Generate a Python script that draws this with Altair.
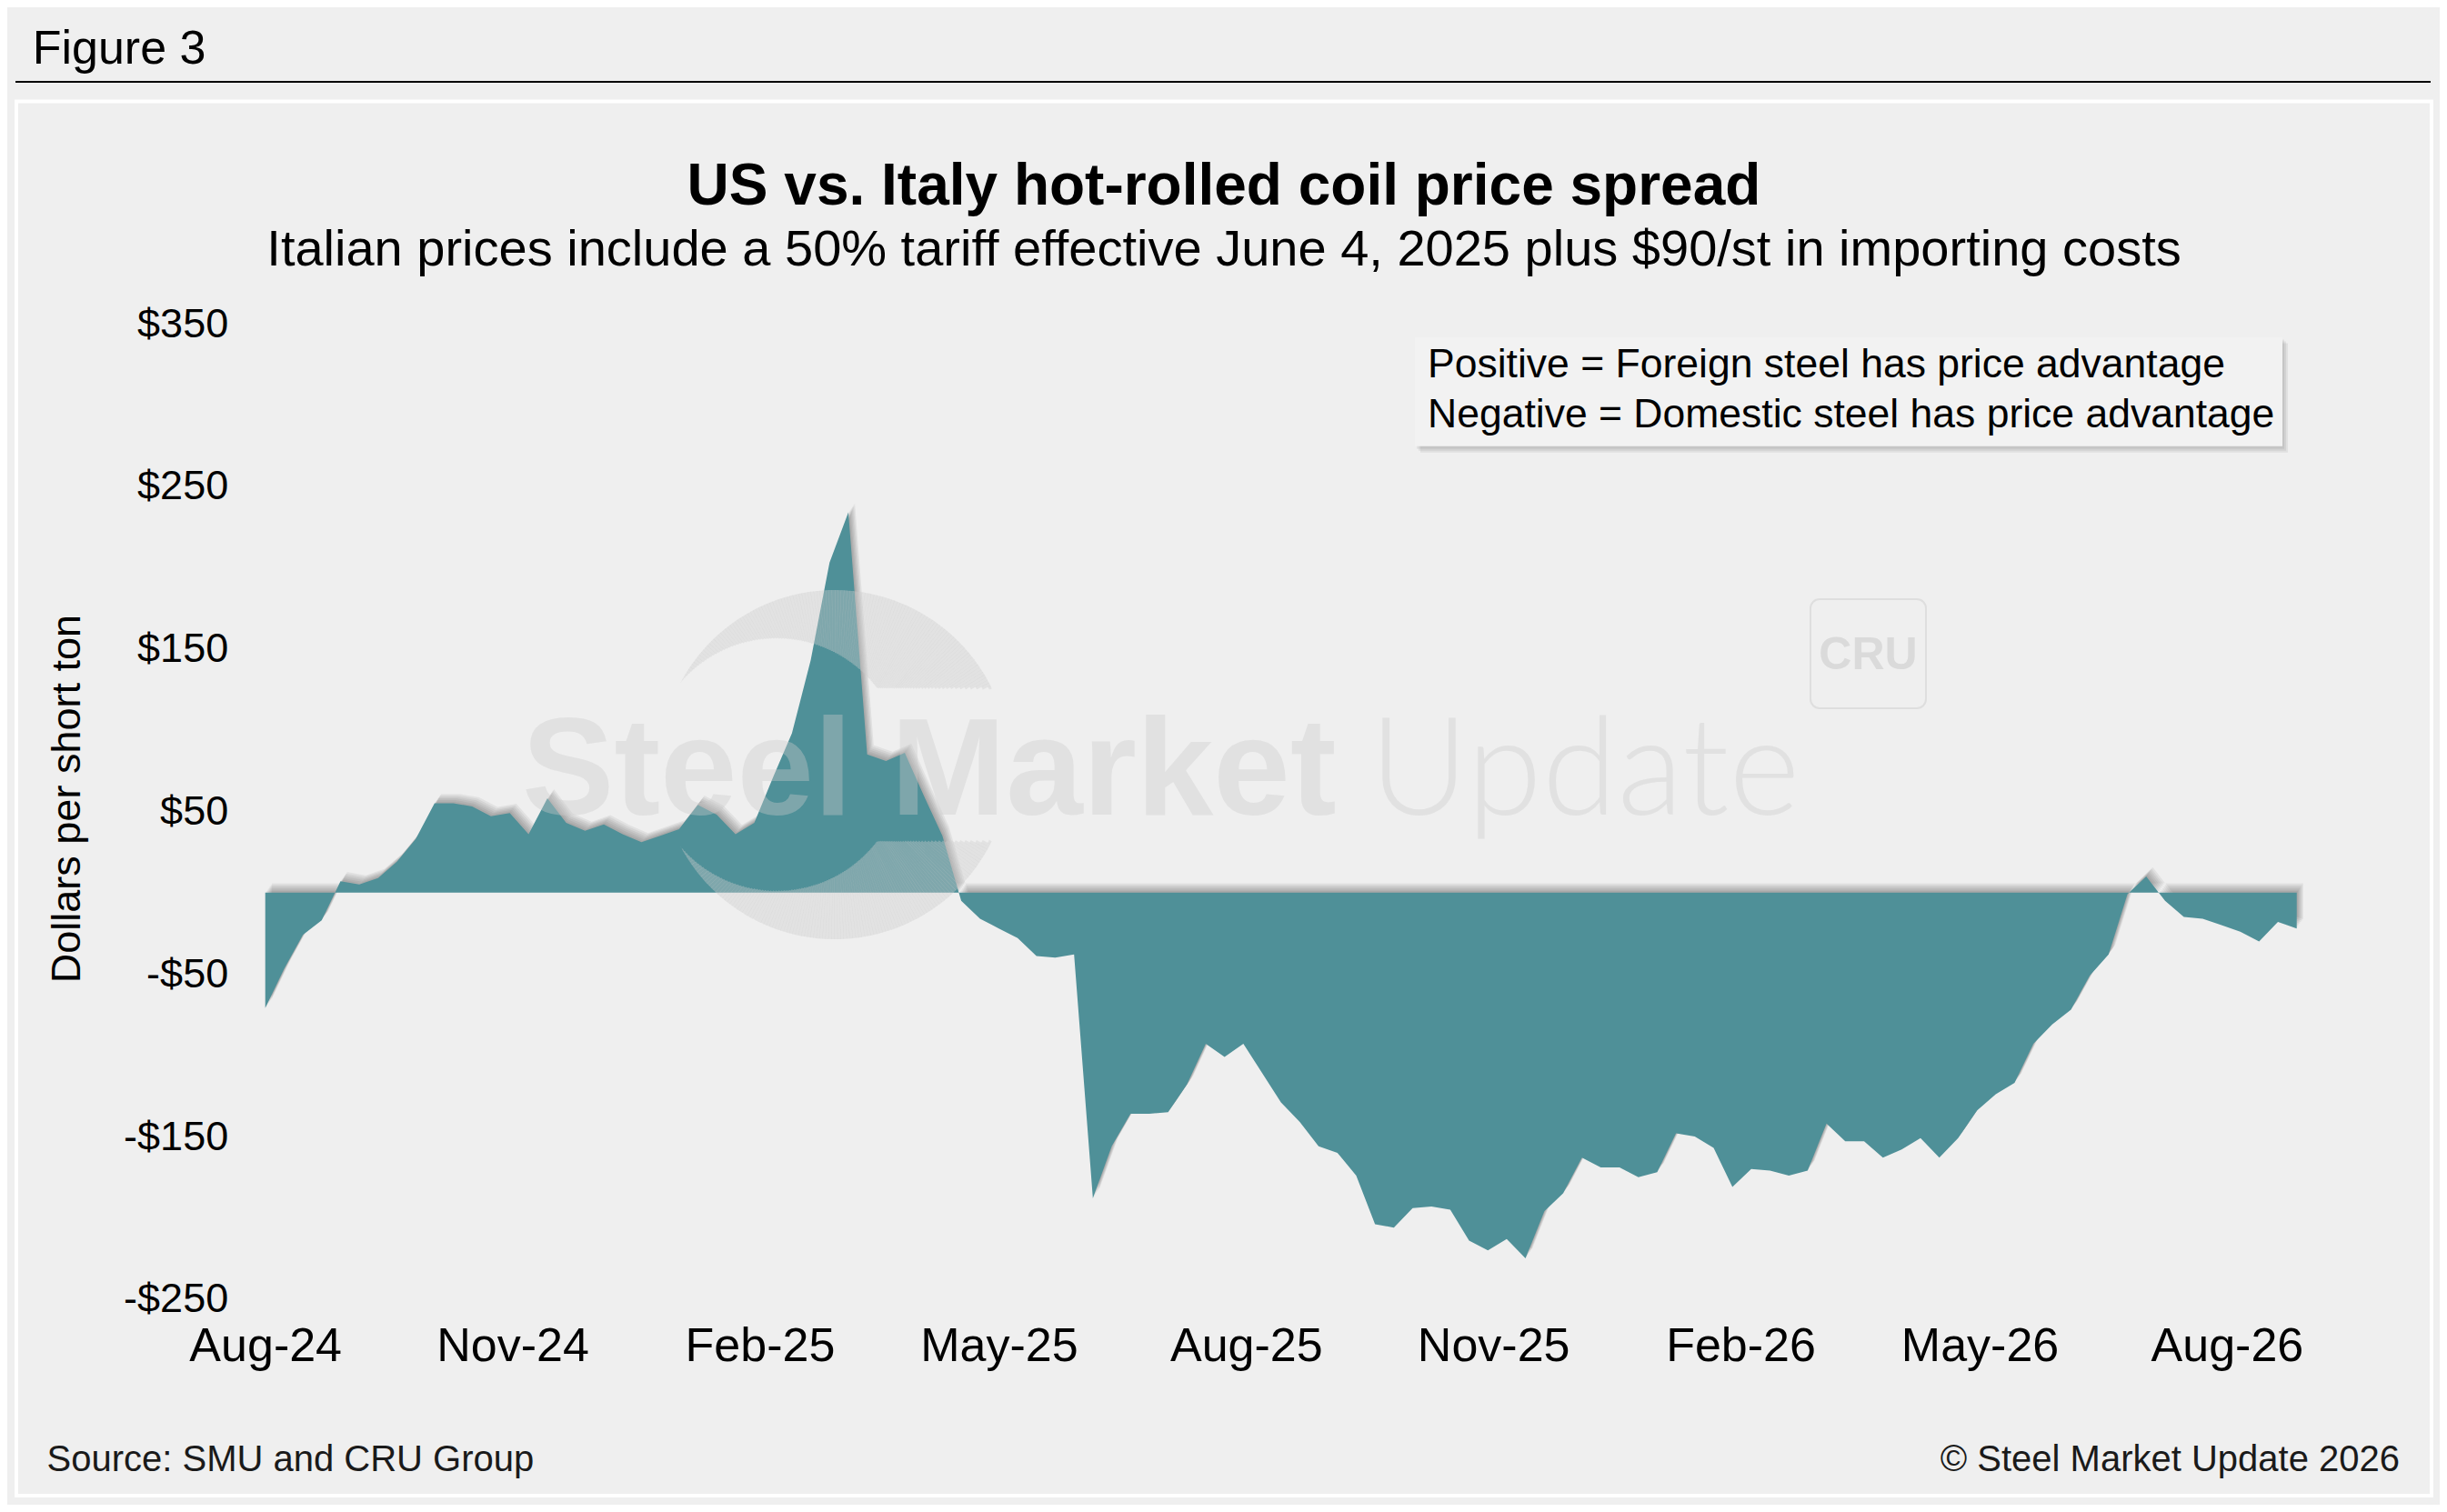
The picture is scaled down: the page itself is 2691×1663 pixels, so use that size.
import math
import altair as alt
import pandas as pd

# ---------------- data ----------------
start_date = "2024-08-01"
spread = [-71, -47, -26, -17, 7, 5, 9, 19, 33, 55,
          55, 53, 47, 49, 36, 58, 43, 38, 42, 36,
          31, 35, 39, 54, 48, 36, 43, 71, 98, 143,
          203, 234, 85, 81, 86, 60, 35, -5, -16, -22,
          -28, -39, -40, -38, -188, -156, -136, -136, -135, -118,
          -93, -101, -93, -111, -129, -141, -156, -160, -174, -204,
          -206, -194, -193, -195, -214, -220, -213, -225, -196, -185,
          -163, -169, -169, -175, -172, -148, -150, -157, -181, -170,
          -171, -174, -171, -142, -153, -153, -163, -158, -151, -163,
          -151, -134, -124, -117, -93, -81, -72, -51, -38, -1,
          10, -5, -15, -16, -20, -24, -30, -18, -22]
dates = pd.date_range(start_date, periods=len(spread), freq="7D").strftime("%Y-%m-%d")

x_tick_months = [(2024, 8), (2024, 11), (2025, 2), (2025, 5), (2025, 8),
                 (2025, 11), (2026, 2), (2026, 5), (2026, 8)]
y_ticks = [-250, -150, -50, 50, 150, 250, 350]

title_text = "US vs. Italy hot-rolled coil price spread"
subtitle_text = "Italian prices include a 50% tariff effective June 4, 2025 plus $90/st in importing costs"
legend_lines = ["Positive = Foreign steel has price advantage",
                "Negative = Domestic steel has price advantage"]
y_title = "Dollars per short ton"
source_text = "Source: SMU and CRU Group"
copyright_text = "\u00a9 Steel Market Update 2026"
figure_label = "Figure 3"

df = pd.DataFrame({"date": dates, "spread": spread})

# ---------------- styling / layout ----------------
BG = "#efefef"
TEAL = "#4f9098"
FONT = "Liberation Sans"
WM_COLOR = "#cccccc"
WM_OPACITY = 0.38

TOTAL_W, TOTAL_H = 2675, 1647
PL, PT = 283.7, 348.0
W, H = 2334.5, 1072.8
PR = TOTAL_W - PL - W
PB = TOTAL_H - PT - H

one = pd.DataFrame({"k": [0]})


def txt(text, x, y, size, weight="normal", align="left", baseline="alphabetic",
        color="#000000", font=FONT, angle=0, opacity=1.0):
    return alt.Chart(one).mark_text(
        text=text, align=align, baseline=baseline, fontSize=size,
        fontWeight=weight, font=font, color=color, angle=angle, opacity=opacity
    ).encode(x=alt.value(x), y=alt.value(y))


def rect(x1, y1, x2, y2, **kw):
    return alt.Chart(one).mark_rect(**kw).encode(
        x=alt.value(x1), x2=alt.value(x2), y=alt.value(y1), y2=alt.value(y2))


x_enc = alt.X(
    "date:T",
    scale=alt.Scale(type="utc", domain=[alt.DateTime(year=2024, month=8, date=1, utc=True),
                                        alt.DateTime(year=2026, month=9, date=30, utc=True)]),
    axis=alt.Axis(values=[alt.DateTime(year=y, month=m, date=1, utc=True) for y, m in x_tick_months],
                  labelExpr="utcFormat(datum.value, '%b-%y')", title=None, domain=False,
                  ticks=False, grid=False, labelFontSize=52, labelFont=FONT, labelColor="#000000",
                  labelPadding=52, labelBaseline="middle", labelFlush=False, labelOverlap=False),
)
y_enc = alt.Y(
    "spread:Q",
    scale=alt.Scale(domain=[-250, 350], nice=False, zero=False),
    axis=alt.Axis(values=y_ticks,
                  labelExpr="datum.value < 0 ? '-$' + abs(datum.value) : '$' + datum.value",
                  title=None, domain=False, ticks=False, grid=False, labelFontSize=45,
                  labelPadding=41, labelFont=FONT, labelColor="#000000"),
)

base = alt.Chart(df)

shadows = []
for k in range(1, 7):
    dx, dy = 1.2 * k, 1.7 * k
    shadows.append(base.mark_area(color="#000000", opacity=0.055, xOffset=dx,
                                  yOffset=-dy, y2Offset=-dy)
                   .encode(x=x_enc, y=y_enc, y2=alt.datum(0)))

area = base.mark_area(color=TEAL, opacity=1).encode(x=x_enc, y=y_enc, y2=alt.datum(0))

# frame pieces
panel = rect(-273.7, -244.5, 2382.3, 1289, fillOpacity=0, stroke="#ffffff", strokeWidth=4)
header_rule = alt.Chart(one).mark_rule(color="#000000", strokeWidth=2).encode(
    x=alt.value(-274.7), x2=alt.value(2381.3), y=alt.value(-266))

# legend box
lx1, ly1, lx2, ly2 = 1264.3, 14.6, 2218.3, 134.8
legend_shadow = [rect(lx1 + o, ly1 + o + 1, lx2 + o, ly2 + o + 1, fill="#000000", opacity=0.06)
                 for o in (2, 4, 6)]
legend_box = rect(lx1, ly1, lx2, ly2, fill="#f2f2f2")
legend_t1 = txt(legend_lines[0], 1278.3, 45.5, 44.5, baseline="middle")
legend_t2 = txt(legend_lines[1], 1278.3, 100.5, 44.5, baseline="middle")

# CRU mark
cru_box = rect(1699.3, 303, 1826.3, 423, fillOpacity=0, stroke="#dedede", strokeWidth=2,
               cornerRadius=10)
cru_txt = txt("CRU", 1762.8, 365, 50, weight="bold", align="center", baseline="middle",
              color="#dadada")

# watermark text
wm1 = txt("Steel Market", 282.3, 540, 152, weight="bold", color=WM_COLOR, opacity=WM_OPACITY)
wm2 = txt("Update", 1214.3, 540, 150, weight=300, color=WM_COLOR, opacity=WM_OPACITY, font="Lato")

# watermark crescent logo (outer circle minus offset inner circle minus a horizontal band)
LOGO_CX, LOGO_CY = 626.3, 485.0
LOGO_R, LOGO_RI, LOGO_SHIFT, LOGO_BAND = 192.0, 139.0, -64.0, 84.3
logo_rows = []
STEP = 1.0
for i in range(int(360 / STEP)):
    a0 = math.radians(i * STEP)
    a1 = math.radians((i + 1) * STEP)
    am = 0.5 * (a0 + a1)
    ux, uy = math.sin(am), -math.cos(am)
    b = ux * LOGO_SHIFT
    r_i = b + math.sqrt(b * b - (LOGO_SHIFT ** 2 - LOGO_RI ** 2))
    r_b = LOGO_BAND / abs(uy) if abs(uy) > 1e-9 else 1e9
    r0 = max(r_i, r_b)
    if r0 < LOGO_R:
        logo_rows.append({"t0": a0, "t1": a1 + 0.002, "r0": r0, "r1": LOGO_R})
logo_df = pd.DataFrame(logo_rows)
logo = alt.Chart(logo_df).mark_arc(color=WM_COLOR, opacity=WM_OPACITY).encode(
    x=alt.value(LOGO_CX), y=alt.value(LOGO_CY),
    theta=alt.Theta("t0:Q", scale=None, stack=None),
    theta2=alt.Theta2("t1"),
    radius=alt.Radius("r1:Q", scale=None),
    radius2=alt.Radius2("r0"),
)

layers = [panel, header_rule,
          txt(figure_label, -256, -286, 52),
          txt(title_text, 1054.3, -131, 64, weight="bold", align="center"),
          txt(subtitle_text, 1054.3, -64.3, 56, align="center"),
          cru_box, cru_txt,
          *shadows, area, logo, wm1, wm2,
          *legend_shadow, legend_box, legend_t1, legend_t2,
          txt(y_title, -217.9, 522.6, 45, align="center", baseline="middle", angle=270),
          txt(source_text, -240.2, 1250, 40, baseline="middle", color="#1a1a1a"),
          txt(copyright_text, 2347.3, 1250, 40, align="right", baseline="middle", color="#1a1a1a"),
          ]

chart = alt.layer(*layers).properties(
    width=W, height=H,
    padding={"left": PL, "top": PT, "right": PR, "bottom": PB},
    autosize=alt.AutoSizeParams(type="none"),
    background=BG,
).configure_view(stroke=None)

chart.save("out.html", embed_options={"renderer": "svg", "actions": False})
